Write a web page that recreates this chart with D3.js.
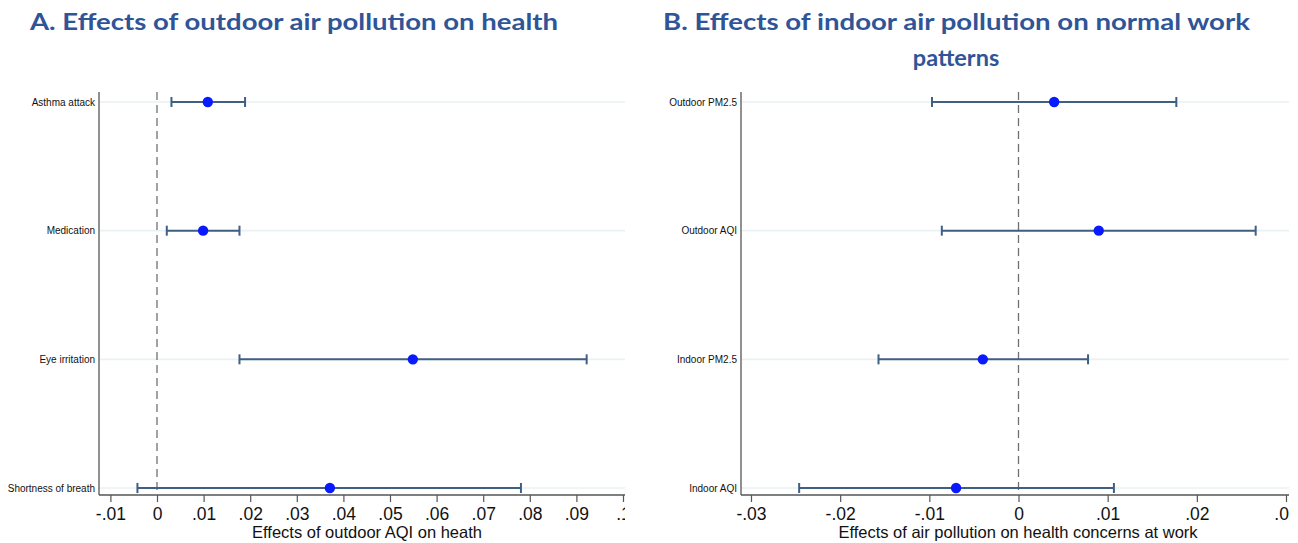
<!DOCTYPE html>
<html>
<head>
<meta charset="utf-8">
<script src="https://cdn.jsdelivr.net/npm/d3@7"></script>
<style>
  body { margin: 0; background: #fff; }
  svg { display: block; }
</style>
</head>
<body>
<div id="chart"></div>
<script>
"use strict";

// ---- data ----
// panel A: effect of outdoor AQI on health outcomes
var healthOutcomes = ["Asthma attack", "Medication", "Eye irritation", "Shortness of breath"];
var healthEst = [0.0109, 0.0099, 0.0549, 0.0371];
var healthLo  = [0.0031, 0.0021, 0.0177, -0.0042];
var healthHi  = [0.0189, 0.0177, 0.0922, 0.0781];
var healthTicks = [-0.01, 0, 0.01, 0.02, 0.03, 0.04, 0.05, 0.06, 0.07, 0.08, 0.09, 0.1];

// panel B: effect of air pollution on health concerns at work
var workMeasures = ["Outdoor PM2.5", "Outdoor AQI", "Indoor PM2.5", "Indoor AQI"];
var workEst = [0.0040, 0.0090, -0.0040, -0.0070];
var workLo  = [-0.0097, -0.0086, -0.0157, -0.0246];
var workHi  = [0.0177, 0.0266, 0.0078, 0.0107];
var workTicks = [-0.03, -0.02, -0.01, 0, 0.01, 0.02, 0.03];

var titleA = "A. Effects of outdoor air pollution on health";
var titleB1 = "B. Effects of indoor air pollution on normal work";
var titleB2 = "patterns";
var xTitleA = "Effects of outdoor AQI on heath";
var xTitleB = "Effects of air pollution on health concerns at work";

// ---- styling ----
var W = 1298, H = 543;
var titleColor = "#2f5597",
    ciColor = "#3f5f85",
    dotColor = "#0a1aff",
    gridColor = "#eaf1f4",
    axisColor = "#555",
    refColor = "#707070";

var svg = d3.select("#chart").append("svg")
    .attr("width", W)
    .attr("height", H);

// stata-like tick labels: .01, -.01, 0
function stataFmt(d){
    if(Math.abs(d) < 1e-12) return "0";
    return String(+d.toFixed(3)).replace("0.", ".");
}

function drawPanel(p){
    var g = svg.append("g");

    var clipId = "clip" + p.id;
    svg.append("clipPath").attr("id", clipId)
      .append("rect")
        .attr("x", p.clipLeft).attr("y", 0)
        .attr("width", p.clipRight - p.clipLeft).attr("height", H);
    g.attr("clip-path", "url(#" + clipId + ")");

    var x = d3.scaleLinear()
        .domain([p.ticks[0], p.ticks[p.ticks.length - 1]])
        .range([p.x0, p.x1]);
    var y = d3.scalePoint()
        .domain(p.cats)
        .range([p.yTop, p.yBottom]);

    // horizontal grid at each category
    g.selectAll("line.grid").data(p.cats).enter().append("line")
        .attr("class", "grid")
        .attr("x1", p.axisX).attr("x2", p.clipRight)
        .attr("y1", function(d){ return y(d); })
        .attr("y2", function(d){ return y(d); })
        .attr("stroke", gridColor)
        .attr("stroke-width", 1.6);

    // reference line at zero
    g.append("line")
        .attr("x1", x(0)).attr("x2", x(0))
        .attr("y1", p.plotTop).attr("y2", p.axisY)
        .attr("stroke", refColor)
        .attr("stroke-width", 1.3)
        .attr("stroke-dasharray", "8,5");

    // y axis line + labels
    g.append("line")
        .attr("x1", p.axisX).attr("x2", p.axisX)
        .attr("y1", p.plotTop).attr("y2", p.axisY)
        .attr("stroke", axisColor).attr("stroke-width", 1.3);
    g.selectAll("text.ylab").data(p.cats).enter().append("text")
        .attr("class", "ylab")
        .attr("x", p.axisX - 4)
        .attr("y", function(d){ return y(d); })
        .attr("dy", "0.35em")
        .attr("text-anchor", "end")
        .style("font-family", "'Liberation Sans', Arial, sans-serif")
        .style("font-size", "10px")
        .attr("fill", "#111")
        .text(function(d){ return d; });

    // x axis
    var xAxis = d3.axisBottom(x)
        .tickValues(p.ticks)
        .tickFormat(stataFmt)
        .tickSize(7)
        .tickPadding(6);
    var ax = g.append("g")
        .attr("transform", "translate(0," + p.axisY + ")")
        .call(xAxis);
    ax.select(".domain").remove();
    ax.selectAll(".tick line").attr("stroke", axisColor).attr("stroke-width", 1.2);
    ax.selectAll(".tick text")
        .style("font-family", "'Liberation Sans', Arial, sans-serif")
        .style("font-size", "17.5px")
        .attr("fill", "#111");
    g.append("line")
        .attr("x1", p.axisX).attr("x2", p.clipRight)
        .attr("y1", p.axisY).attr("y2", p.axisY)
        .attr("stroke", axisColor).attr("stroke-width", 1.3);

    g.append("text")
        .attr("x", (p.axisX + p.clipRight) / 2 + p.xTitleShift)
        .attr("y", 538)
        .attr("text-anchor", "middle")
        .style("font-family", "'Liberation Sans', Arial, sans-serif")
        .style("font-size", "16.5px")
        .attr("fill", "#111")
        .text(p.xTitle);

    // confidence intervals
    var rows = p.cats.map(function(c, i){
        return {cat: c, est: p.est[i], lo: p.lo[i], hi: p.hi[i]};
    });
    var ci = g.selectAll("g.ci").data(rows).enter().append("g").attr("class", "ci");
    ci.append("line")
        .attr("x1", function(d){ return x(d.lo); })
        .attr("x2", function(d){ return x(d.hi); })
        .attr("y1", function(d){ return y(d.cat); })
        .attr("y2", function(d){ return y(d.cat); })
        .attr("stroke", ciColor).attr("stroke-width", 2);
    ["lo", "hi"].forEach(function(k){
        ci.append("line")
            .attr("x1", function(d){ return x(d[k]); })
            .attr("x2", function(d){ return x(d[k]); })
            .attr("y1", function(d){ return y(d.cat) - 5; })
            .attr("y2", function(d){ return y(d.cat) + 5; })
            .attr("stroke", ciColor).attr("stroke-width", 2);
    });
    ci.append("circle")
        .attr("cx", function(d){ return x(d.est); })
        .attr("cy", function(d){ return y(d.cat); })
        .attr("r", 5.2)
        .attr("fill", dotColor);
}

drawPanel({
    id: "A", cats: healthOutcomes, est: healthEst, lo: healthLo, hi: healthHi,
    ticks: healthTicks, x0: 110.4, x1: 623,
    axisX: 99, axisY: 495, plotTop: 92, yTop: 102, yBottom: 488,
    clipLeft: 0, clipRight: 625, xTitle: xTitleA, xTitleShift: 5
});
drawPanel({
    id: "B", cats: workMeasures, est: workEst, lo: workLo, hi: workHi,
    ticks: workTicks, x0: 751, x1: 1286,
    axisX: 741, axisY: 495, plotTop: 92, yTop: 102, yBottom: 488,
    clipLeft: 650, clipRight: 1289, xTitle: xTitleB, xTitleShift: 3
});

// panel titles
var tFont = "Lato, 'Open Sans', sans-serif";
svg.append("text")
    .attr("x", 30).attr("y", 30)
    .style("font-family", tFont).style("font-weight", "bold").style("font-size", "23.5px")
    .attr("fill", titleColor)
    .attr("textLength", 528).attr("lengthAdjust", "spacingAndGlyphs")
    .text(titleA);
svg.append("text")
    .attr("x", 663).attr("y", 30)
    .style("font-family", tFont).style("font-weight", "bold").style("font-size", "23.5px")
    .attr("fill", titleColor)
    .attr("textLength", 587).attr("lengthAdjust", "spacingAndGlyphs")
    .text(titleB1);
svg.append("text")
    .attr("x", 956).attr("y", 66)
    .attr("text-anchor", "middle")
    .style("font-family", tFont).style("font-weight", "bold").style("font-size", "23.5px")
    .attr("fill", titleColor)
    .text(titleB2);
</script>
</body>
</html>
